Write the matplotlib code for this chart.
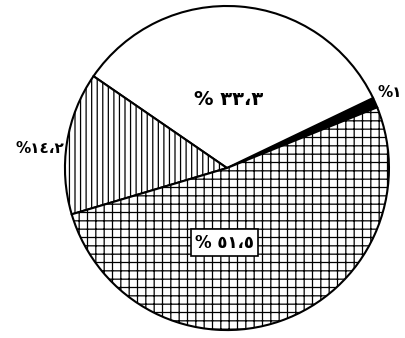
import matplotlib.pyplot as plt
import numpy as np

# shares (percent)
values = [1.0, 33.3, 14.2, 51.5]
labels = ['%١', '% ٣٣،٣', '%١٤،٢', '% ٥١،٥']
colors = ['black', 'white', 'white', 'white']
hatches = ['', '', '|||', '++']

plt.rcParams['hatch.linewidth'] = 0.9
plt.rcParams['font.family'] = ['DejaVu Sans']

fig = plt.figure(figsize=(4.05, 3.38), dpi=100)
ax = fig.add_axes([0, 0, 1, 1])

wedges, _ = ax.pie(values, colors=colors, startangle=22, counterclock=True,
                   wedgeprops=dict(edgecolor='black', linewidth=1.5))
for w, h in zip(wedges, hatches):
    w.set_hatch(h)

# label placement: (radius, angle offset, fontsize, boxed)
place = [(1.11, 1, 11, False), (0.42, 3, 14, False),
         (1.16, 3, 11, False), (0.46, -21, 12, True)]
for w, lab, (r, off, fs, boxed) in zip(wedges, labels, place):
    ang = np.deg2rad((w.theta1 + w.theta2) / 2 + off)
    kw = dict(ha='center', va='center', fontsize=fs, fontweight='bold')
    if boxed:
        kw['bbox'] = dict(facecolor='white', edgecolor='black', linewidth=1.2, pad=3)
    ax.text(r * np.cos(ang), r * np.sin(ang), lab, **kw)

ax.set_xlim(-1.401, 1.099)
ax.set_ylim(-1.049, 1.037)
ax.set_aspect('auto')
ax.axis('off')

fig.savefig('out.png', dpi=100)
